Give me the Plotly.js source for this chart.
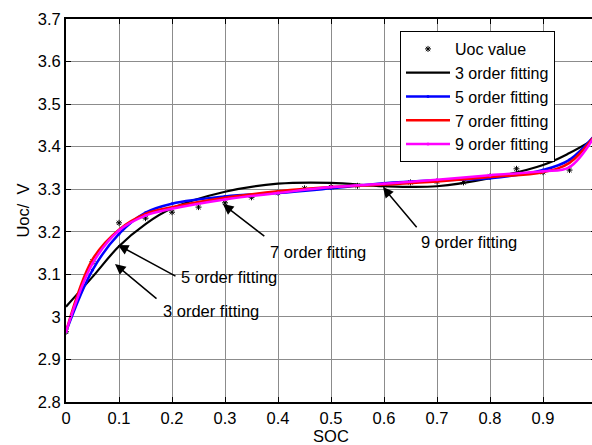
<!DOCTYPE html>
<html><head><meta charset="utf-8">
<script src="https://cdn.plot.ly/plotly-3.0.1.min.js"></script>
<style>html,body{margin:0;padding:0;overflow:hidden;background:#fff}</style>
</head><body>
<div id="chart" style="width:610px;height:445px"></div>
<script>
// Measured data
const socPts = [0, 0.05, 0.1, 0.15, 0.2, 0.25, 0.3, 0.35, 0.4, 0.45, 0.5, 0.55, 0.6, 0.65, 0.7, 0.75, 0.8, 0.85, 0.9, 0.95, 1.0];
const uocPts = [2.965, 3.13, 3.221, 3.232, 3.246, 3.258, 3.268, 3.281, 3.292, 3.302, 3.305, 3.308, 3.31, 3.316, 3.318, 3.316, 3.33, 3.348, 3.34, 3.345, 3.42];

const socFit = [0, 0.05, 0.1, 0.15, 0.2, 0.3, 0.4, 0.5, 0.6, 0.7, 0.8, 0.9, 0.95, 1.0];
const fit3 = [3.024, 3.094, 3.166, 3.218, 3.255, 3.294, 3.313, 3.315, 3.307, 3.307, 3.326, 3.357, 3.385, 3.42];
const fit5 = [2.965, 3.11, 3.195, 3.245, 3.266, 3.283, 3.291, 3.302, 3.314, 3.321, 3.326, 3.345, 3.369, 3.43];
const fit7 = [2.965, 3.135, 3.205, 3.242, 3.258, 3.28, 3.295, 3.305, 3.311, 3.318, 3.329, 3.34, 3.362, 3.43];
const fit9 = [2.965, 3.125, 3.203, 3.238, 3.254, 3.276, 3.291, 3.305, 3.313, 3.322, 3.333, 3.342, 3.352, 3.43];

const xTickVals = [0, 0.1, 0.2, 0.3, 0.4, 0.5, 0.6, 0.7, 0.8, 0.9];
const xTickText = ['0', '0.1', '0.2', '0.3', '0.4', '0.5', '0.6', '0.7', '0.8', '0.9'];

const legendNames = ['Uoc value', '3 order fitting', '5 order fitting', '7 order fitting', '9 order fitting'];
const labelTexts = ['3 order fitting', '5 order fitting', '7 order fitting', '9 order fitting'];

const font = {family: 'Arial, "Liberation Sans", sans-serif', size: 16.5, color: '#000'};
const legendFont = {family: 'Arial, "Liberation Sans", sans-serif', size: 16, color: '#000'};

const traces = [
  {x: socPts, y: uocPts, mode: 'markers', name: legendNames[0], legendgroup: 'a',
   marker: {symbol: 'asterisk-open', size: 5, color: '#000', line: {color: '#000', width: 1}}},
  {x: socFit, y: fit3, mode: 'lines', name: legendNames[1], legendgroup: 'b',
   line: {color: '#000000', width: 2.2, shape: 'spline', smoothing: 1}},
  {x: socFit, y: fit5, mode: 'lines+markers', name: legendNames[2], legendgroup: 'c',
   line: {color: '#0000ff', width: 2.5, shape: 'spline', smoothing: 1}, marker: {size: 3, color: '#0000ff'}},
  {x: socFit, y: fit7, mode: 'lines', name: legendNames[3], legendgroup: 'd',
   line: {color: '#ff0000', width: 2.5, shape: 'spline', smoothing: 1}},
  {x: socFit, y: fit9, mode: 'lines+markers', name: legendNames[4], legendgroup: 'e',
   line: {color: '#ff00ff', width: 2.5, shape: 'spline', smoothing: 1}, marker: {size: 3, color: '#ff00ff'}}
];

// annotation arrow heads / tails / text centres
const arrowHead = [[0.0925, 3.124], [0.098, 3.169], [0.296, 3.265], [0.598, 3.305]];
const arrowTail = [[0.1736, 3.040], [0.2094, 3.094], [0.377, 3.187], [0.664, 3.207]];
const textPos = [[0.2736, 3.014], [0.3075, 3.094], [0.4755, 3.1525], [0.760, 3.176]];

const annotations = [];
for (let i = 0; i < 4; i++) {
  annotations.push({x: arrowHead[i][0], y: arrowHead[i][1], xref: 'x', yref: 'y',
    ax: arrowTail[i][0], ay: arrowTail[i][1], axref: 'x', ayref: 'y',
    text: '', showarrow: true, arrowhead: 2, arrowsize: 1.4, arrowwidth: 1.5, arrowcolor: '#000', standoff: 0, startstandoff: 0});
  annotations.push({x: textPos[i][0], y: textPos[i][1], xref: 'x', yref: 'y',
    text: labelTexts[i], showarrow: false, font: font, xanchor: 'center', yanchor: 'middle'});
}

const layout = {
  width: 610, height: 445,
  margin: {l: 66, r: 14, t: 19, b: 43},
  paper_bgcolor: '#fff', plot_bgcolor: '#fff',
  font: font,
  showlegend: true,
  legend: {x: (555 - 66) / 530, y: (402 - 31) / 383, xanchor: 'right', yanchor: 'top',
    bgcolor: '#fff', bordercolor: '#000', borderwidth: 1, font: legendFont,
    traceorder: 'grouped', tracegroupgap: 0, itemwidth: 44},
  xaxis: {range: [0, 1], tickmode: 'array', tickvals: xTickVals, ticktext: xTickText,
    showgrid: true, gridcolor: '#8c8c8c', gridwidth: 1,
    zeroline: false, showline: true, linecolor: '#000', linewidth: 2, mirror: 'ticks',
    ticks: 'inside', ticklen: 5, tickcolor: '#000', tickfont: font,
    title: {text: 'SOC', font: font, standoff: 0}},
  yaxis: {range: [2.8, 3.7], dtick: 0.1, tick0: 2.8, showgrid: true, gridcolor: '#8c8c8c', gridwidth: 1,
    zeroline: false, showline: true, linecolor: '#000', linewidth: 2, mirror: 'ticks',
    ticks: 'inside', ticklen: 5, tickcolor: '#000', tickfont: font,
    title: {text: 'Uoc/  V', font: font, standoff: 4}},
  annotations: annotations
};

Plotly.newPlot('chart', traces, layout, {displayModeBar: false, staticPlot: true});
</script>
</body></html>
